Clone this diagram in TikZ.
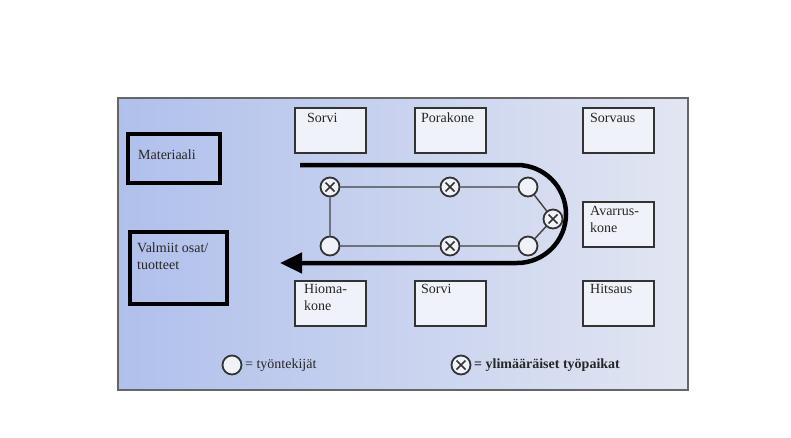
\documentclass[tikz,border=0pt]{standalone}
\usepackage{fontspec}
\setmainfont{Liberation Serif}
\usetikzlibrary{arrows.meta}
\definecolor{pl}{RGB}{176,192,236}
\definecolor{pr}{RGB}{226,230,242}
\definecolor{cf}{RGB}{240,242,250}
\tikzset{
 mach/.style={draw=black!80,line width=2pt,fill=cf,minimum width=71pt,minimum height=45pt,anchor=north west,inner sep=0pt},
 mtxt/.style={anchor=north west,align=left,font=\fontsize{14}{17}\selectfont,inner sep=0pt,text=black!85},
 bigbox/.style={draw=black,line width=4pt,anchor=north west,inner sep=0pt},
 wk/.style={circle,draw=black!80,line width=1.8pt,fill=cf,minimum size=19pt,inner sep=0pt},
 xw/.style={wk,path picture={\draw[line width=1.6pt,black!80] (path picture bounding box.south west)++(5pt,5pt) -- ++(9pt,9pt) (path picture bounding box.north west)++(5pt,-5pt) -- ++(9pt,-9pt);}},
 lnk/.style={draw=black!75,line width=1.4pt}
}
\begin{document}
\begin{tikzpicture}[x=1pt,y=-1pt]
\useasboundingbox (0,0) rectangle (791,437);
\fill[white] (0,0) rectangle (791,437);
\shade[left color=pl,right color=pr,draw=black!60,line width=1.6pt] (118,98) rectangle (688,390);
% machines
\node[mach] (m1) at (294,107) {}; \node[mtxt] at (307,113) {Sorvi};
\node[mach] (m2) at (414,107) {}; \node[mtxt] at (421,113) {Porakone};
\node[mach] (m3) at (582,107) {}; \node[mtxt] at (590,113) {Sorvaus};
\node[mach] (m4) at (582,201) {}; \node[mtxt] at (590,206) {Avarrus-\\kone};
\node[mach] (m5) at (294,280) {}; \node[mtxt] at (304,284) {Hioma-\\kone};
\node[mach] (m6) at (414,280) {}; \node[mtxt] at (421,284) {Sorvi};
\node[mach] (m7) at (582,280) {}; \node[mtxt] at (590,284) {Hitsaus};
% side boxes
\node[bigbox,minimum width=92pt,minimum height=49pt] (mat) at (126,132) {};
\node[mtxt] at (138,150) {Materiaali};
\node[bigbox,minimum width=97pt,minimum height=72pt] (val) at (128,230) {};
\node[mtxt] at (137,243) {Valmiit osat/\\tuotteet};
% loop
\node[xw] (a) at (330,187) {};
\node[xw] (b) at (450,187) {};
\node[wk] (c) at (528,187) {};
\node[xw] (d) at (553,219) {};
\node[wk] (e) at (528,246) {};
\node[xw] (f) at (450,246) {};
\node[wk] (g) at (330,246) {};
\draw[lnk] (a)--(b) (b)--(c) (c)--(d) (d)--(e) (e)--(f) (f)--(g) (g)--(a);
% flow arrow
\coordinate (s) at (300,165);
\coordinate (t) at (280,263);
\draw[line width=4.5pt,-{Triangle[length=22pt,width=20pt]}] (s) -- (517,165) arc[start angle=-90,end angle=90,radius=49] -- (t);
% legend
\node[wk] (l1) at (232,365) {};
\node[mtxt,anchor=west] at (245,365) {= työntekijät};
\node[xw] (l2) at (461,365) {};
\node[mtxt,anchor=west] at (474,365) {\bfseries= ylimääräiset työpaikat};
\end{tikzpicture}
\end{document}
